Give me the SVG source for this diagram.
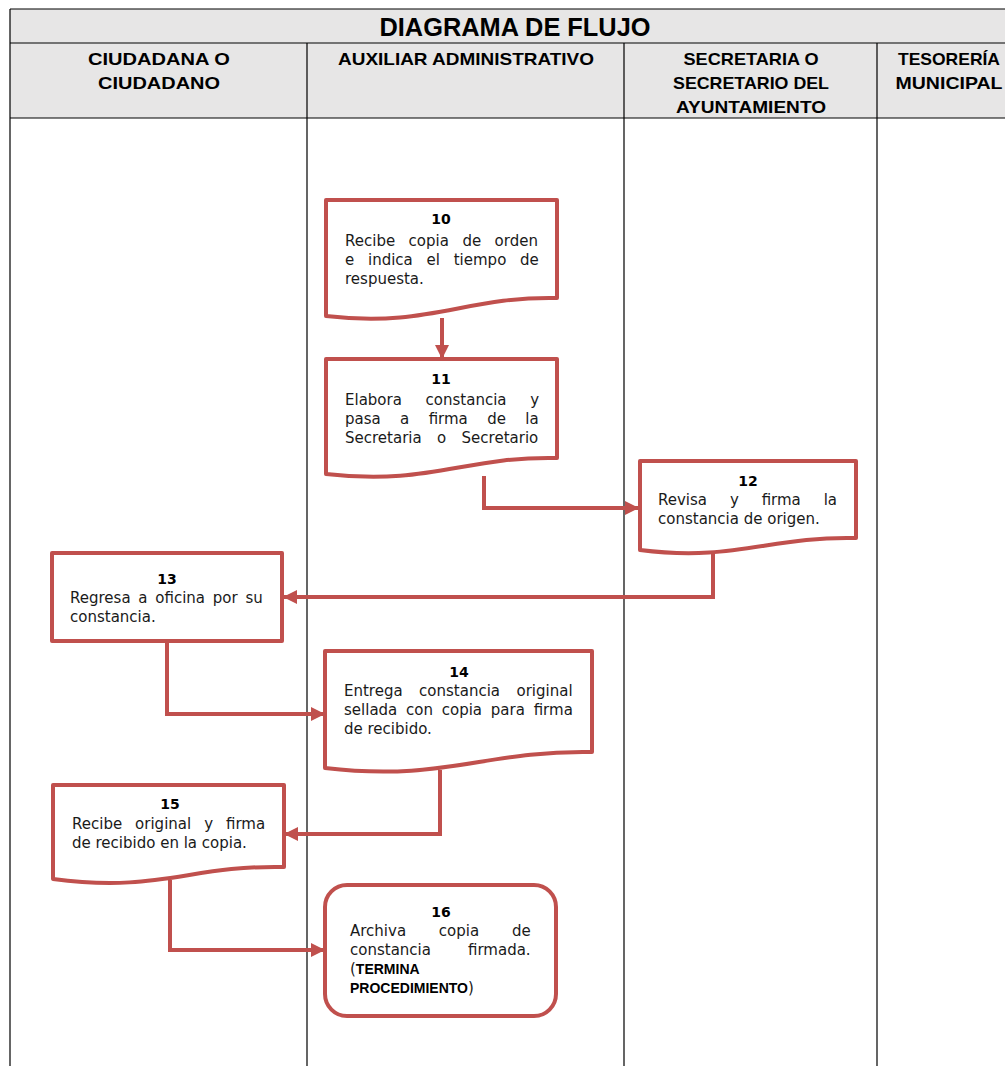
<svg xmlns="http://www.w3.org/2000/svg" width="1005" height="1066" viewBox="0 0 1005 1066">
<defs>
<style>
.grid{stroke:#000;stroke-width:1.2;fill:none}
.hdr{font-family:"Liberation Sans",Arial,sans-serif;font-weight:bold;font-size:17px;fill:#000;text-anchor:middle}
.ttl{font-family:"Liberation Sans",Arial,sans-serif;font-weight:bold;font-size:25px;fill:#000;text-anchor:middle}
.shape{fill:#fff;stroke:#c0504d;stroke-width:4;stroke-linejoin:round}
.conn{fill:none;stroke:#c0504d;stroke-width:4;stroke-linejoin:miter}
.t{font-family:"DejaVu Sans","Liberation Sans",sans-serif;font-size:15px;fill:#1a1a1a}
.n{font-family:"DejaVu Sans","Liberation Sans",sans-serif;font-size:14px;font-weight:bold;fill:#000;text-anchor:middle}
.b{font-family:"Liberation Sans",Arial,sans-serif;font-size:14px;font-weight:bold;fill:#000}
</style>
<marker id="arr" markerUnits="userSpaceOnUse" markerWidth="14" markerHeight="14" viewBox="0 0 14 14" refX="13" refY="7" orient="auto">
<path d="M0,0 L14,7 L0,14 Z" fill="#c0504d"/>
</marker>
</defs>
<rect width="1005" height="1066" fill="#fff"/>
<g id="table">
<rect x="10" y="9" width="1000" height="109" fill="#e7e6e6"/>
<path class="grid" d="M10,9 H1005 M10,43 H1005 M10,118 H1005 M10,9 V1066 M307,43 V1066 M624,43 V1066 M877,43 V1066"/>
<text class="ttl" x="515" y="36" textLength="271" lengthAdjust="spacingAndGlyphs">DIAGRAMA DE FLUJO</text>
<text class="hdr" x="159" y="65" textLength="142" lengthAdjust="spacingAndGlyphs">CIUDADANA O</text>
<text class="hdr" x="159" y="89" textLength="122" lengthAdjust="spacingAndGlyphs">CIUDADANO</text>
<text class="hdr" x="466" y="65" textLength="256" lengthAdjust="spacingAndGlyphs">AUXILIAR ADMINISTRATIVO</text>
<text class="hdr" x="751" y="65" textLength="135" lengthAdjust="spacingAndGlyphs">SECRETARIA O</text>
<text class="hdr" x="751" y="89" textLength="156" lengthAdjust="spacingAndGlyphs">SECRETARIO DEL</text>
<text class="hdr" x="751" y="113" textLength="150" lengthAdjust="spacingAndGlyphs">AYUNTAMIENTO</text>
<text class="hdr" x="949" y="65" textLength="102" lengthAdjust="spacingAndGlyphs">TESORERÍA</text>
<text class="hdr" x="949" y="89" textLength="107" lengthAdjust="spacingAndGlyphs">MUNICIPAL</text>
</g>
<g id="connectors">
<path class="conn" d="M442,318 V358" marker-end="url(#arr)"/>
<path class="conn" d="M484,476 V508 H638" marker-end="url(#arr)"/>
<path class="conn" d="M713,550 V597 H284" marker-end="url(#arr)"/>
<path class="conn" d="M167,642 V714 H324" marker-end="url(#arr)"/>
<path class="conn" d="M440,770 V834 H285" marker-end="url(#arr)"/>
<path class="conn" d="M170,880 V950 H324" marker-end="url(#arr)"/>
</g>
<g id="node10">
<path class="shape" d="M326,200 H557 V298 C465,296 430,328 326,316 Z"/>
<text class="n" x="441" y="224">10</text>
<text class="t" x="345" y="246" word-spacing="8.7">Recibe copia de orden</text>
<text class="t" x="345" y="265" word-spacing="9">e indica el tiempo de</text>
<text class="t" x="345" y="284">respuesta.</text>
</g>
<g id="node11">
<path class="shape" d="M326,359 H557 V458 C465,456 430,486 326,474 Z"/>
<text class="n" x="441" y="384">11</text>
<text class="t" x="345" y="405" word-spacing="18.9">Elabora constancia y</text>
<text class="t" x="345" y="424" word-spacing="14.6">pasa a firma de la</text>
<text class="t" x="345" y="443" word-spacing="10.6">Secretaria o Secretario</text>
</g>
<g id="node12">
<path class="shape" d="M640,461 H856 V538 C770,536 735,562 640,550 Z"/>
<text class="n" x="748" y="486">12</text>
<text class="t" x="658" y="505" word-spacing="18.1">Revisa y firma la</text>
<text class="t" x="658" y="524">constancia de origen.</text>
</g>
<g id="node13">
<rect class="shape" x="52" y="553" width="230" height="88"/>
<text class="n" x="167" y="584">13</text>
<text class="t" x="70" y="603" word-spacing="3">Regresa a oficina por su</text>
<text class="t" x="70" y="622">constancia.</text>
</g>
<g id="node14">
<path class="shape" d="M325,651 H592 V752 C485,750 445,782 325,768 Z"/>
<text class="n" x="459" y="677">14</text>
<text class="t" x="344" y="696" word-spacing="11.7">Entrega constancia original</text>
<text class="t" x="344" y="715" word-spacing="4">sellada con copia para firma</text>
<text class="t" x="344" y="734">de recibido.</text>
</g>
<g id="node15">
<path class="shape" d="M53,785 H284 V867 C190,865 160,893 53,879 Z"/>
<text class="n" x="170" y="809">15</text>
<text class="t" x="72" y="829" word-spacing="8.2">Recibe original y firma</text>
<text class="t" x="72" y="848">de recibido en la copia.</text>
</g>
<g id="node16">
<rect class="shape" x="325" y="885" width="231" height="131" rx="22" ry="22"/>
<text class="n" x="441" y="917">16</text>
<text class="t" x="350" y="936" word-spacing="28">Archiva copia de</text>
<text class="t" x="350" y="955" word-spacing="32.3">constancia firmada.</text>
<text class="t" x="350" y="974">(<tspan class="b">TERMINA</tspan></text>
<text class="t" x="350" y="993"><tspan class="b">PROCEDIMIENTO</tspan>)</text>
</g>
</svg>
